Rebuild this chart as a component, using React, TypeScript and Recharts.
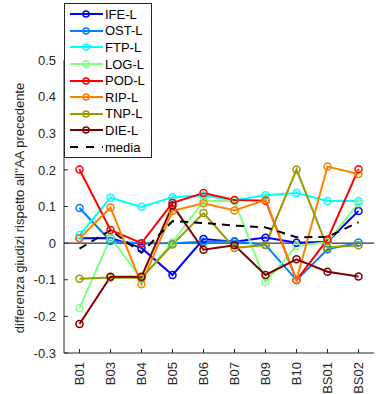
import React from 'react'
import { LineChart, Line, XAxis, YAxis, ReferenceLine } from 'recharts'

const FONT = '"Liberation Sans", Arial, Helvetica, sans-serif'
const AXIS = '#262626'

const CATEGORIES = ['B01', 'B03', 'B04', 'B05', 'B06', 'B07', 'B09', 'B10', 'BS01', 'BS02']

const IFE = [0.013, 0.014, -0.013, -0.087, 0.011, 0.004, 0.015, 0.001, 0.004, 0.088]
const OST = [0.096, 0.006, -0.001, 0.0, 0.004, 0.005, -0.005, -0.101, -0.017, 0.002]
const FTP = [0.022, 0.124, 0.099, 0.125, 0.13, 0.117, 0.131, 0.137, 0.115, 0.115]
const LOG = [-0.177, 0.014, -0.097, 0.002, 0.115, 0.115, -0.106, -0.008, 0.003, 0.109]
const POD = [0.201, 0.036, 0.0, 0.11, 0.137, 0.118, 0.116, -0.101, 0.01, 0.202]
const RIP = [0.013, 0.097, -0.112, 0.088, 0.109, 0.089, 0.118, -0.101, 0.209, 0.189]
const TNP = [-0.097, -0.094, -0.095, -0.004, 0.082, -0.013, -0.005, 0.201, -0.012, -0.006]
const DIE = [-0.221, -0.092, -0.092, 0.103, -0.018, -0.006, -0.087, -0.044, -0.078, -0.091]
const MEDIA = [-0.015, 0.035, -0.026, 0.06, 0.055, 0.048, 0.043, 0.016, 0.017, 0.057]

const Y_TICKS = [-0.3, -0.2, -0.1, 0, 0.1, 0.2, 0.3, 0.4, 0.5]

const SERIES = [
  { key: 'IFE-L', values: IFE, color: '#0000ff' },
  { key: 'OST-L', values: OST, color: '#0080ff' },
  { key: 'FTP-L', values: FTP, color: '#00ffff' },
  { key: 'LOG-L', values: LOG, color: '#80ff80' },
  { key: 'POD-L', values: POD, color: '#ff0000' },
  { key: 'RIP-L', values: RIP, color: '#ff8000' },
  { key: 'TNP-L', values: TNP, color: '#999900' },
  { key: 'DIE-L', values: DIE, color: '#800000' },
]

const data = CATEGORIES.map((c, i) => {
  const row: any = { name: c, media: MEDIA[i] }
  SERIES.forEach(s => { row[s.key] = s.values[i] })
  return row
})

// ticks drawn inward, like the default matlab axes
const XTick = ({ x, y, payload }: any) => (
  <g>
    <line x1={x} y1={y} x2={x} y2={y - 4} stroke={AXIS} strokeWidth={1} />
    <text
      x={x}
      y={y + 9}
      dy="0.36em"
      transform={`rotate(-90, ${x}, ${y + 9})`}
      textAnchor="end"
      fontSize={13}
      fontFamily={FONT}
      fill={AXIS}
    >
      {payload.value}
    </text>
  </g>
)

const YTick = ({ x, y, payload }: any) => (
  <g>
    <line x1={x} y1={y} x2={x + 4} y2={y} stroke={AXIS} strokeWidth={1} />
    <text x={x - 8} y={y} dy="0.36em" textAnchor="end" fontSize={13} fontFamily={FONT} fill={AXIS}>
      {payload.value}
    </text>
  </g>
)

const YLabel = () => (
  <text
    x={19}
    y={208}
    transform="rotate(-90, 19, 208)"
    textAnchor="middle"
    dy="0.36em"
    fontSize={13}
    fontFamily={FONT}
    fill={AXIS}
  >
    differenza giudizi rispetto all''AA precedente
  </text>
)

const LegendBox = () => (
  <div
    style={{
      position: 'absolute',
      left: 64,
      top: 3,
      border: `1px solid ${AXIS}`,
      background: '#fff',
      width: 86,
      padding: '2px 0 2px 0',
      fontFamily: FONT,
      fontSize: 13,
      color: '#000',
    }}
  >
    {SERIES.map(s => (
      <div key={s.key} style={{ display: 'flex', alignItems: 'center', height: 16.6 }}>
        <svg width={40} height={12} style={{ flex: 'none' }}>
          <line x1={5} y1={6} x2={38} y2={6} stroke={s.color} strokeWidth={2} />
          <circle cx={21} cy={6} r={3} fill="none" stroke={s.color} strokeWidth={1.5} />
        </svg>
        <span style={{ lineHeight: '13px' }}>{s.key}</span>
      </div>
    ))}
    <div style={{ display: 'flex', alignItems: 'center', height: 16.6 }}>
      <svg width={40} height={12} style={{ flex: 'none' }}>
        <line x1={5} y1={6} x2={38} y2={6} stroke="#000" strokeWidth={2} strokeDasharray="8 8" />
      </svg>
      <span style={{ lineHeight: '13px' }}>media</span>
    </div>
  </div>
)

export default function App() {
  return (
    <div style={{ position: 'absolute', left: 0, top: 0, width: 376, height: 394, background: '#fff' }}>
      <LineChart width={376} height={394} data={data} margin={{ top: 60, right: 2, left: 0, bottom: 0 }}>
        <XAxis
          dataKey="name"
          interval={0}
          height={41}
          padding={{ left: 15.5, right: 15.5 }}
          tickSize={0}
          tickMargin={0}
          tick={<XTick />}
          stroke={AXIS}
        />
        <YAxis
          domain={[-0.3, 0.5]}
          ticks={Y_TICKS}
          interval={0}
          width={64}
          tickSize={0}
          tickMargin={0}
          tick={<YTick />}
          stroke={AXIS}
          label={<YLabel />}
        />
        <ReferenceLine y={0} stroke="#000" strokeWidth={1} />
        {SERIES.map(s => (
          <Line
            key={s.key}
            dataKey={s.key}
            type="linear"
            stroke={s.color}
            strokeWidth={2}
            dot={{ r: 3.5, fill: 'none', stroke: s.color, strokeWidth: 1.5 }}
            activeDot={false}
            isAnimationActive={false}
          />
        ))}
        <Line
          dataKey="media"
          type="linear"
          stroke="#000"
          strokeWidth={2}
          strokeDasharray="8 6"
          dot={false}
          activeDot={false}
          isAnimationActive={false}
        />
      </LineChart>
      <LegendBox />
    </div>
  )
}
